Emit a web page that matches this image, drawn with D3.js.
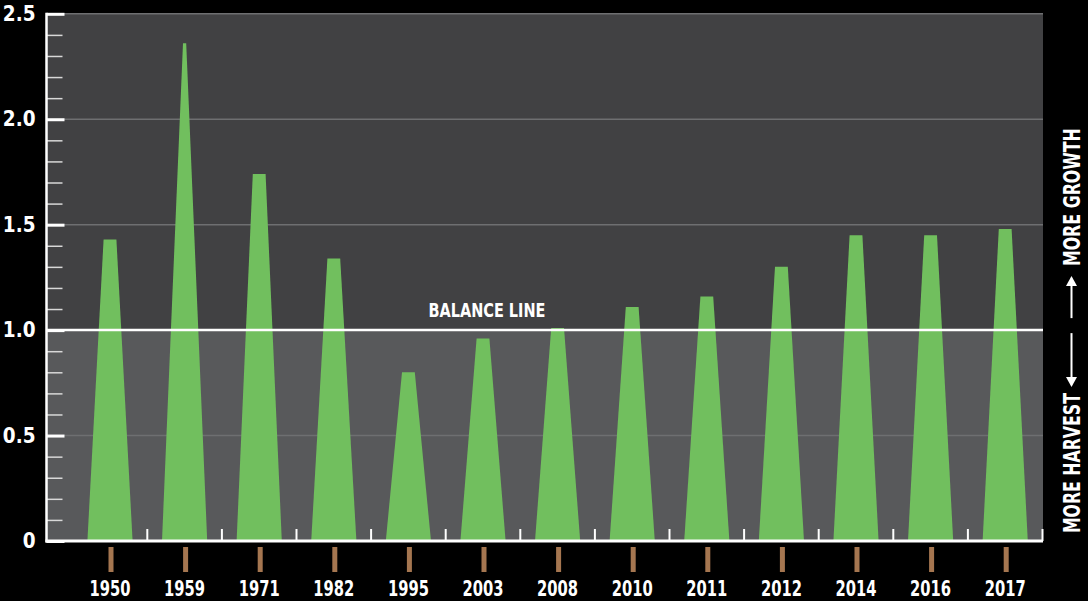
<!DOCTYPE html>
<html lang="en">
<head>
  <script src="https://d3js.org/d3.v7.min.js"></script>
  <style>
    body {
      margin: 0;
      background: #000;
    }
    text {
      font-family: "Liberation Sans Narrow", "DejaVu Sans Condensed", "Roboto", sans-serif;
      font-weight: bold;
      fill: #fff;
    }
  </style>
</head>
<body>
<div id="chart"></div>
<script>
  // growth-to-harvest ratio by year
  var years = ["1950", "1959", "1971", "1982", "1995", "2003", "2008", "2010", "2011", "2012", "2014", "2016", "2017"];
  var ratios = [1.43, 2.36, 1.74, 1.34, 0.80, 0.96, 1.01, 1.11, 1.16, 1.30, 1.45, 1.45, 1.48];
  var majorTicks = [0, 0.5, 1.0, 1.5, 2.0, 2.5];
  var majorLabels = ["0", "0.5", "1.0", "1.5", "2.0", "2.5"];
  var balanceValue = 1.0;

  var data = years.map(function (y, i) { return {year: y, value: ratios[i]}; });

  var width = 1088, height = 601;
  var plotLeft = 46.5, plotRight = 1043, plotTop = 13.8, plotBottom = 541;

  var svg = d3.select("#chart").append("svg")
          .attr("width", width)
          .attr("height", height)
          .style("background-color", "#000");

  var x = d3.scaleBand().domain(years).range([72.7, 1042.5]).padding(0);
  var y = d3.scaleLinear().domain([0, 2.5]).range([plotBottom, plotTop]);

  // backgrounds above / below the balance line
  svg.append("rect")
          .attr("x", plotLeft).attr("y", y(2.5))
          .attr("width", plotRight - plotLeft).attr("height", y(balanceValue) - y(2.5))
          .style("fill", "#414143");
  svg.append("rect")
          .attr("x", plotLeft).attr("y", y(balanceValue))
          .attr("width", plotRight - plotLeft).attr("height", y(0) - y(balanceValue))
          .style("fill", "#58595b");

  // grid lines
  svg.selectAll(".grid")
          .data(majorTicks.filter(function (d) { return d > 0 && d !== balanceValue; }))
          .enter().append("line")
          .attr("class", "grid")
          .attr("x1", plotLeft).attr("x2", plotRight)
          .attr("y1", function (d) { return y(d); })
          .attr("y2", function (d) { return y(d); })
          .style("stroke", "#6e6f71")
          .style("stroke-width", 1.5);

  // bars: tapered spikes
  svg.selectAll(".spike")
          .data(data)
          .enter().append("path")
          .attr("class", "spike")
          .attr("d", function (d) {
            var c = x(d.year) + x.bandwidth() / 2;
            var b = 22.6;
            var t = d.value > 2 ? 1.6 : 6.4;
            return "M" + (c - b) + "," + y(0) + "L" + (c - t) + "," + y(d.value) +
                    "L" + (c + t) + "," + y(d.value) + "L" + (c + b) + "," + y(0) + "Z";
          })
          .style("fill", "#71bf5e");

  // balance line
  svg.append("line")
          .attr("x1", plotLeft).attr("x2", plotRight)
          .attr("y1", y(balanceValue)).attr("y2", y(balanceValue))
          .style("stroke", "#fff")
          .style("stroke-width", 2.5);

  svg.append("text")
          .attr("x", 487)
          .attr("y", y(balanceValue) - 13)
          .attr("text-anchor", "middle")
          .attr("textLength", 117)
          .attr("lengthAdjust", "spacingAndGlyphs")
          .style("font-size", "19.5px")
          .text("BALANCE LINE");

  // y axis: minor ticks
  var minor = d3.range(1, 25).map(function (i) { return i / 10; })
          .filter(function (d) { return Math.round(d * 10) % 5 !== 0; });
  svg.append("g")
          .attr("transform", "translate(" + plotLeft + ",0)")
          .call(d3.axisLeft(y).tickValues(minor).tickSize(-16).tickFormat(""))
          .call(function (g) {
            g.select(".domain").remove();
            g.selectAll("line").style("stroke", "#d8d8d8").style("stroke-width", 1.5);
          });

  // y axis: major ticks
  svg.append("g")
          .attr("transform", "translate(" + plotLeft + ",0)")
          .call(d3.axisLeft(y).tickValues(majorTicks).tickSize(-18).tickPadding(11)
                  .tickFormat(function (d, i) { return majorLabels[i]; }))
          .call(function (g) {
            g.select(".domain").remove();
            g.selectAll("line").style("stroke", "#fff").style("stroke-width", 3);
            g.selectAll("text").attr("font-size", null).attr("font-family", null)
                    .style("font-size", "20.5px").style("fill", "#fff");
          });

  svg.append("line")
          .attr("x1", plotLeft).attr("x2", plotLeft)
          .attr("y1", plotTop - 1).attr("y2", plotBottom + 1.5)
          .style("stroke", "#fff")
          .style("stroke-width", 2.5);

  // x axis line and band separators
  svg.append("line")
          .attr("x1", plotLeft - 1).attr("x2", plotRight)
          .attr("y1", plotBottom).attr("y2", plotBottom)
          .style("stroke", "#fff")
          .style("stroke-width", 3);

  svg.selectAll(".sep")
          .data(years)
          .enter().append("line")
          .attr("class", "sep")
          .attr("x1", function (d) { return x(d) + x.bandwidth(); })
          .attr("x2", function (d) { return x(d) + x.bandwidth(); })
          .attr("y1", plotBottom).attr("y2", plotBottom - 12)
          .style("stroke", "#fff")
          .style("stroke-width", 2);

  // brown ticks and year labels
  svg.selectAll(".stem")
          .data(years)
          .enter().append("rect")
          .attr("class", "stem")
          .attr("x", function (d) { return x(d) + x.bandwidth() / 2 - 1.5; })
          .attr("y", 547)
          .attr("width", 5)
          .attr("height", 25)
          .style("fill", "#a57650");

  svg.selectAll(".year")
          .data(years)
          .enter().append("text")
          .attr("class", "year")
          .attr("x", function (d) { return x(d) + x.bandwidth() / 2; })
          .attr("y", 596)
          .attr("text-anchor", "middle")
          .attr("textLength", 41)
          .attr("lengthAdjust", "spacingAndGlyphs")
          .style("font-size", "21px")
          .text(function (d) { return d; });

  // right side annotation
  var side = svg.append("g")
          .attr("transform", "translate(1080," + y(balanceValue) + ") rotate(-90)");

  side.append("text")
          .attr("x", 64)
          .attr("y", 0)
          .attr("textLength", 138)
          .attr("lengthAdjust", "spacingAndGlyphs")
          .style("font-size", "23px")
          .text("MORE GROWTH");

  side.append("text")
          .attr("x", -63)
          .attr("y", 0)
          .attr("text-anchor", "end")
          .attr("textLength", 140)
          .attr("lengthAdjust", "spacingAndGlyphs")
          .style("font-size", "23px")
          .text("MORE HARVEST");

  var arrows = [{from: 12, to: 54}, {from: -3, to: -57}];
  arrows.forEach(function (a) {
    var dir = a.to > a.from ? 1 : -1;
    side.append("line")
            .attr("x1", a.from).attr("x2", a.to - dir * 8)
            .attr("y1", -8.5).attr("y2", -8.5)
            .style("stroke", "#fff")
            .style("stroke-width", 2);
    side.append("path")
            .attr("d", "M" + a.to + "," + (-8.5) + "L" + (a.to - dir * 10) + "," + (-14) +
                    "L" + (a.to - dir * 10) + "," + (-3) + "Z")
            .style("fill", "#fff");
  });
</script>
</body>
</html>
